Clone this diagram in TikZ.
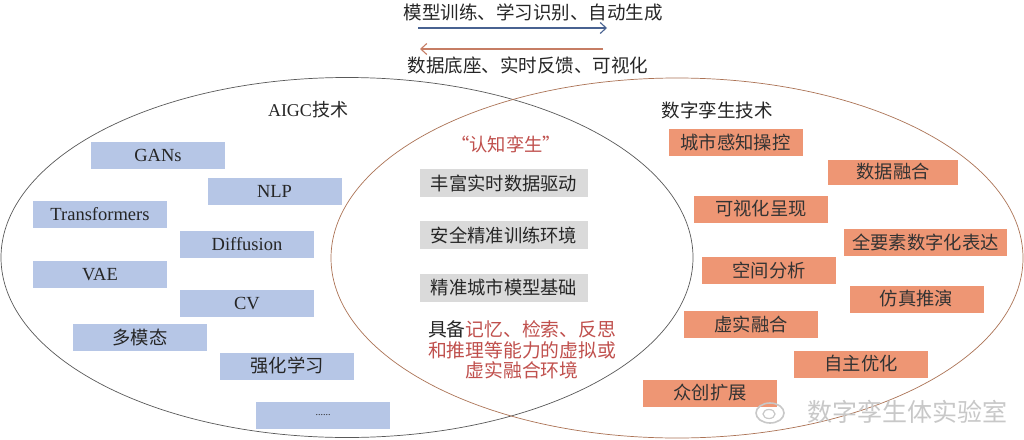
\documentclass[tikz,border=0pt]{standalone}
\usepackage{fontspec}
\setmainfont{Liberation Serif}
\newfontfamily\cjk{Noto Sans CJK SC}
\usetikzlibrary{arrows.meta}
\definecolor{boxblue}{RGB}{182,198,230}
\definecolor{boxorange}{RGB}{238,150,116}
\definecolor{boxgray}{RGB}{218,218,218}
\definecolor{redtxt}{RGB}{192,80,77}
\definecolor{arrblue}{RGB}{72,98,145}
\definecolor{arrbrown}{RGB}{198,125,100}
\definecolor{ellbrown}{RGB}{172,115,85}
\definecolor{wmgray}{RGB}{200,200,200}
\begin{document}
\begin{tikzpicture}[x=1pt,y=-1pt,
  bbox/.style={fill=boxblue, minimum width=134pt, minimum height=27pt, inner sep=0pt, text=black!85},
  obox/.style={fill=boxorange, minimum width=134pt, minimum height=27pt, inner sep=0pt, text=black!80, font=\cjk\fontsize{18.3}{20}\selectfont},
  gbox/.style={fill=boxgray, minimum width=168pt, minimum height=28pt, inner sep=0pt, text=black!85, font=\cjk\fontsize{18.3}{20}\selectfont},
  latf/.style={font=\fontsize{18.5}{20}\selectfont},
  cjkf/.style={font=\cjk\fontsize{18.3}{20}\selectfont},
  lbl/.style={inner sep=0pt, text=black!85, font=\cjk\fontsize{18.5}{20}\selectfont},
  arr/.style={line width=1.1pt, -{Straight Barb[length=6pt,width=11pt]}}
]
\useasboundingbox (0,0) rectangle (1024,439);
\fill[white] (0,0) rectangle (1024,439);

% Venn ellipses
\draw[black!65, line width=0.7pt] (347,257.5) ellipse [x radius=346pt, y radius=180pt];
\draw[ellbrown, line width=0.7pt] (677,258) ellipse [x radius=346pt, y radius=180pt];

% top labels and arrows
\node[lbl] (top1) at (533,12) {模型训练、学习识别、自动生成};
\node[lbl] (top2) at (528,65) {数据底座、实时反馈、可视化};
\coordinate (b1) at (418,28);
\coordinate (b2) at (607,28);
\coordinate (r1) at (603,49);
\coordinate (r2) at (420,49);
\draw[arr, arrblue] (b1) -- (b2);
\draw[arr, arrbrown] (r1) -- (r2);

% set titles
\node[inner sep=0pt, text=black!85] (aigc) at (308,110) {\fontsize{18}{20}\selectfont AIGC\cjk 技术};
\node[lbl] (dt) at (717,110) {数字孪生技术};

% AIGC boxes
\node[bbox, latf] (gans) at (158,155.5) {GANs};
\node[bbox, latf] (nlp) at (274.5,191.5) {NLP};
\node[bbox, latf] (trans) at (100,214.5) {Transformers};
\node[bbox, latf] (diff) at (247,244) {Diffusion};
\node[bbox, latf] (vae) at (100,274.5) {VAE};
\node[bbox, latf] (cv) at (247,303.5) {CV};
\node[bbox, cjkf] (mm) at (140,337.5) {多模态};
\node[bbox, cjkf] (rl) at (287,366) {强化学习};
\node[bbox, font=\fontsize{10}{12}\selectfont] (dots) at (323,415.5) {......};

% middle
\node[inner sep=0pt, text=redtxt, font=\cjk\fontsize{18.3}{20}\selectfont] (cog) at (506,144) {“认知孪生”};
\node[gbox] (g1) at (504,183) {丰富实时数据驱动};
\node[gbox] (g2) at (504,235) {安全精准训练环境};
\node[gbox] (g3) at (504,287.5) {精准城市模型基础};
\node[inner sep=0pt, align=center, text=redtxt, font=\cjk\fontsize{18.8}{20.5}\selectfont] (desc) at (522,350)
  {{\color{black!85}具备}记忆、检索、反思\\和推理等能力的虚拟或\\虚实融合环境};

% digital twin boxes
\node[obox] (o1) at (735.5,142.5) {城市感知操控};
\node[obox, minimum width=130pt, minimum height=25pt] (o2) at (893,172) {数据融合};
\node[obox] (o3) at (761,209) {可视化呈现};
\node[obox, minimum width=163pt] (o4) at (925.5,242.5) {全要素数字化表达};
\node[obox] (o5) at (769,270.5) {空间分析};
\node[obox] (o6) at (916.5,299) {仿真推演};
\node[obox] (o7) at (751,324.5) {虚实融合};
\node[obox] (o8) at (861,364) {自主优化};
\node[obox] (o9) at (710,393) {众创扩展};

% watermark
\draw[wmgray, line width=1.6pt] (770,413) ellipse [x radius=14pt, y radius=10pt];
\draw[wmgray, line width=1.2pt] (769,414) ellipse [x radius=6pt, y radius=4.5pt];
\node[inner sep=0pt, text=wmgray, font=\cjk\fontsize{25}{28}\selectfont] (wm) at (907,412) {数字孪生体实验室};
\end{tikzpicture}
\end{document}
